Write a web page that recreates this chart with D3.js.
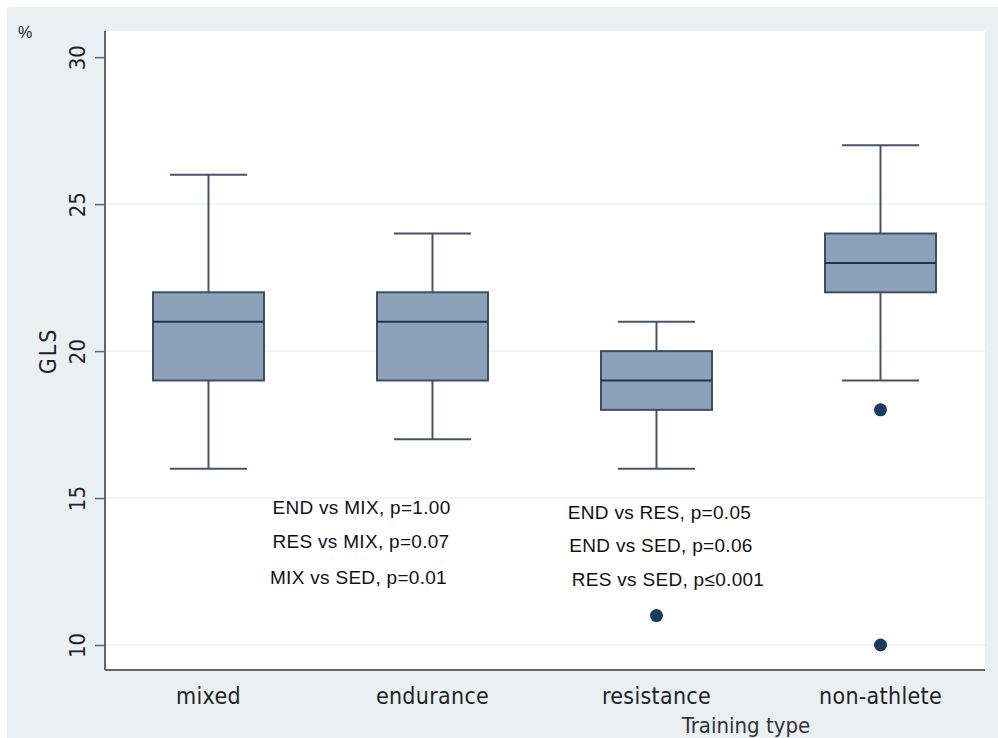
<!DOCTYPE html>
<html>
<head>
<meta charset="utf-8">
<script src="https://cdn.jsdelivr.net/npm/d3@7"></script>
<style>
  body { margin: 0; background: #fff; }
  svg { display: block; }
</style>
</head>
<body>
<svg width="998" height="738"></svg>
<script>
const categories = ['mixed', 'endurance', 'resistance', 'non-athlete'];
const lowWhisker = [16, 17, 16, 19];
const q1 = [19, 19, 18, 22];
const median = [21, 21, 19, 23];
const q3 = [22, 22, 20, 24];
const highWhisker = [26, 24, 21, 27];
const outliers = [[], [], [11], [18, 10]];
const yTicks = [10, 15, 20, 25, 30];
const notesLeft = ['END vs MIX, p=1.00', 'RES vs MIX, p=0.07', 'MIX vs SED, p=0.01'];
const notesRight = ['END vs RES, p=0.05', 'END vs SED, p=0.06', 'RES vs SED, p\u22640.001'];

const svg = d3.select('svg');
const plot = { left: 105, right: 985, top: 31, bottom: 670 };
const axisFont = '"DejaVu Sans Condensed", "DejaVu Sans", sans-serif';
const noteFont = '"Liberation Sans", Arial, sans-serif';

// outer grey panel
svg.append('rect').attr('x', 7).attr('y', 7).attr('width', 991).attr('height', 731)
  .attr('fill', '#eaf0f2');
svg.append('rect').attr('x', plot.left).attr('y', plot.top)
  .attr('width', plot.right - plot.left).attr('height', plot.bottom - plot.top)
  .attr('fill', '#ffffff');

const y = d3.scaleLinear().domain([9.15, 30.89]).range([plot.bottom, plot.top]);
const x = d3.scalePoint().domain(categories).range([208.5, 880.5]);
const boxW = 111;
const capW = 77;

// gridlines
svg.append('g').selectAll('line').data(yTicks.slice(0, 4)).join('line')
  .attr('x1', plot.left).attr('x2', plot.right)
  .attr('y1', d => y(d)).attr('y2', d => y(d))
  .attr('stroke', '#eef2f4').attr('stroke-width', 1.5);

// y axis
const yAxis = svg.append('g').attr('transform', `translate(${plot.left},0)`)
  .call(d3.axisLeft(y).tickValues(yTicks).tickSize(10).tickSizeOuter(0));
yAxis.select('.domain').attr('stroke', '#666').attr('stroke-width', 2)
  .attr('d', `M0,${plot.top}V${plot.bottom}`);
yAxis.selectAll('.tick line').attr('stroke', '#666').attr('stroke-width', 1.5);
yAxis.selectAll('.tick text')
  .attr('font-family', axisFont).attr('font-size', 22).attr('fill', '#222')
  .attr('x', null).attr('dy', '0.35em').attr('text-anchor', 'middle')
  .attr('transform', 'translate(-28,0) rotate(-90)');

// x axis line
svg.append('line').attr('x1', plot.left).attr('x2', plot.right)
  .attr('y1', plot.bottom).attr('y2', plot.bottom)
  .attr('stroke', '#666').attr('stroke-width', 2);

// x category labels
svg.append('g').selectAll('text').data(categories).join('text')
  .attr('x', d => x(d)).attr('y', 704).attr('text-anchor', 'middle')
  .attr('font-family', axisFont).attr('font-size', 23).attr('fill', '#222')
  .attr('letter-spacing', 0.3)
  .text(d => d);

svg.append('text').attr('x', 746).attr('y', 733).attr('text-anchor', 'middle')
  .attr('font-family', axisFont).attr('font-size', 22).attr('fill', '#333')
  .text('Training type');

svg.append('text').attr('x', 48).attr('y', 351).attr('text-anchor', 'middle')
  .attr('transform', 'rotate(-90,48,351)').attr('dy', '0.35em')
  .attr('font-family', axisFont).attr('font-size', 23).attr('letter-spacing', 2).attr('fill', '#222')
  .text('GLS');

svg.append('text').attr('x', 18).attr('y', 38)
  .attr('font-family', noteFont).attr('font-size', 16).attr('fill', '#222')
  .text('%');

// boxes
const groups = svg.append('g').selectAll('g').data(categories).join('g');
groups.each(function (c, i) {
  const g = d3.select(this);
  const cx = x(c);
  const stroke = '#44546a';
  g.append('line').attr('x1', cx).attr('x2', cx).attr('y1', y(highWhisker[i])).attr('y2', y(q3[i]))
    .attr('stroke', stroke).attr('stroke-width', 2);
  g.append('line').attr('x1', cx).attr('x2', cx).attr('y1', y(q1[i])).attr('y2', y(lowWhisker[i]))
    .attr('stroke', stroke).attr('stroke-width', 2);
  g.append('line').attr('x1', cx - capW / 2).attr('x2', cx + capW / 2)
    .attr('y1', y(highWhisker[i])).attr('y2', y(highWhisker[i]))
    .attr('stroke', stroke).attr('stroke-width', 2);
  g.append('line').attr('x1', cx - capW / 2).attr('x2', cx + capW / 2)
    .attr('y1', y(lowWhisker[i])).attr('y2', y(lowWhisker[i]))
    .attr('stroke', stroke).attr('stroke-width', 2);
  g.append('rect').attr('x', cx - boxW / 2).attr('width', boxW)
    .attr('y', y(q3[i])).attr('height', y(q1[i]) - y(q3[i]))
    .attr('fill', '#8da2b8').attr('stroke', '#3e4e63').attr('stroke-width', 2);
  g.append('line').attr('x1', cx - boxW / 2).attr('x2', cx + boxW / 2)
    .attr('y1', y(median[i])).attr('y2', y(median[i]))
    .attr('stroke', '#1e3550').attr('stroke-width', 2);
  g.selectAll('circle').data(outliers[i]).join('circle')
    .attr('cx', cx).attr('cy', d => y(d)).attr('r', 6.5).attr('fill', '#1c3a5e');
});

// annotations
svg.append('g').selectAll('text').data(notesLeft).join('text')
  .attr('x', (d, i) => [361.5, 361, 358.5][i]).attr('y', (d, i) => [514, 548, 584][i])
  .attr('text-anchor', 'middle')
  .attr('font-family', noteFont).attr('font-size', 19).attr('letter-spacing', 0.3).attr('fill', '#111')
  .text(d => d);
svg.append('g').selectAll('text').data(notesRight).join('text')
  .attr('x', (d, i) => [659.5, 661, 668][i]).attr('y', (d, i) => [519, 552, 586][i])
  .attr('text-anchor', 'middle')
  .attr('font-family', noteFont).attr('font-size', 19).attr('letter-spacing', 0.3).attr('fill', '#111')
  .text(d => d);
</script>
</body>
</html>
